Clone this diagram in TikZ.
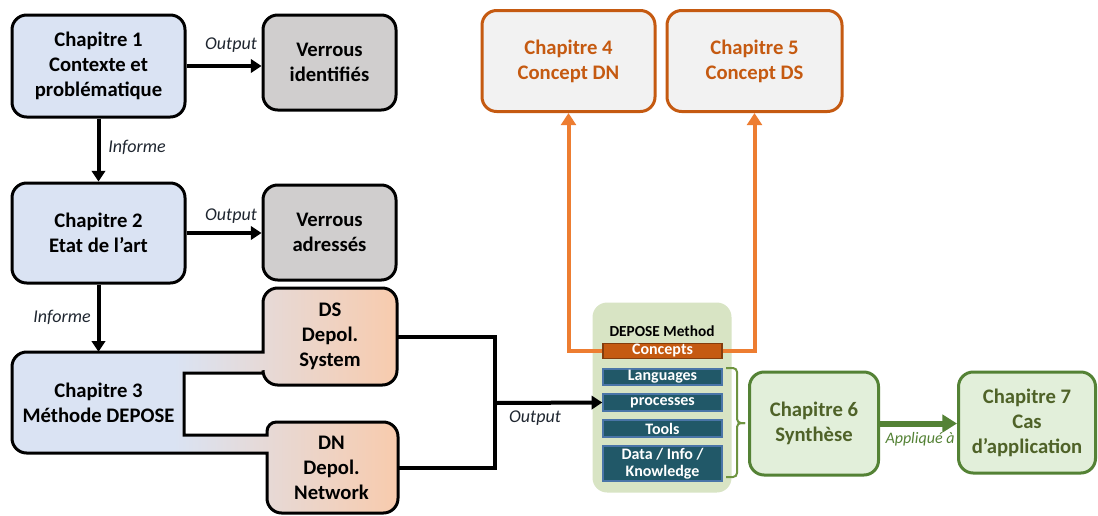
\documentclass[tikz,border=0pt]{standalone}
\usepackage{fontspec}
\setmainfont{Carlito}
\usetikzlibrary{arrows.meta}
\definecolor{chapblue}{HTML}{DAE3F3}
\definecolor{lockgrey}{HTML}{D0CECE}
\definecolor{dspeach}{HTML}{F8CBAD}
\definecolor{orline}{HTML}{ED7D31}
\definecolor{ordark}{HTML}{C55A11}
\definecolor{orfill}{HTML}{F2F2F2}
\definecolor{panelgreen}{HTML}{D8E4C4}
\definecolor{barfill}{HTML}{215868}
\definecolor{barline}{HTML}{4A75A8}
\definecolor{concline}{HTML}{843C0C}
\definecolor{grline}{HTML}{548235}
\definecolor{grfill}{HTML}{E2EFDA}
\definecolor{grtext}{HTML}{4F6228}
\definecolor{lbltext}{HTML}{1F2630}
\definecolor{brack}{HTML}{6E9440}
\pgfdeclarehorizontalshading{chapthree}{100bp}{color(0bp)=(chapblue); color(25bp)=(chapblue); color(46bp)=(chapblue); color(75bp)=(dspeach); color(100bp)=(dspeach)}
\begin{document}
\begin{tikzpicture}[x=0.75pt,y=-0.75pt,
  sz/.style 2 args={minimum width=#1*0.75pt, minimum height=#2*0.75pt},
  box/.style={draw, line width=2.25pt, rounded corners=11pt, align=center, inner sep=0pt, font=\bfseries\fontsize{15.5}{18.75}\selectfont},
  chapb/.style={box, fill=chapblue},
  lockb/.style={box, fill=lockgrey},
  orb/.style={box, draw=ordark, fill=orfill, text=ordark},
  grb/.style={box, draw=grline, fill=grfill, text=grtext},
  txt/.style={align=center, inner sep=0pt, font=\bfseries\fontsize{15.5}{18.75}\selectfont},
  lbl/.style={inner sep=0pt, font=\itshape\fontsize{13.5}{16}\selectfont, text=lbltext},
  barbox/.style={draw=barline, line width=1.1pt, fill=barfill, text=white, inner sep=0pt, align=center, font=\bfseries\fontsize{12}{13.5}\selectfont, minimum width=119*0.75pt},
  blk/.style={line width=3pt, -{Triangle[length=8pt,width=10pt]}},
  orarrow/.style={draw=orline, line width=3pt, -{Triangle[length=9pt,width=11pt]}},
  grarrow/.style={draw=grline, line width=4.5pt, -{Triangle[length=11pt,width=13pt]}}
]
\useasboundingbox (0,0) rectangle (1098,515);
\fill[white] (0,0) rectangle (1098,515);

% left column
\node[chapb, sz={173}{102}] (ch1) at (98.5,66) {Chapitre 1\\Contexte et\\problématique};
\node[lockb, sz={133}{95}] (v1) at (329.5,62.5) {Verrous\\identifiés};
\node[chapb, sz={173}{100}] (ch2) at (98.5,233) {Chapitre 2\\Etat de l’art};
\node[lockb, sz={133}{95}] (v2) at (329.5,232.5) {Verrous\\adressés};

% chapter 3 composite shape
\shadedraw[shading=chapthree, line width=2.25pt, rounded corners=11pt]
  (12,400) -- (12,352)
  [sharp corners] -- (263,352)
  [rounded corners=11pt] -- (263,288) -- (397,288) -- (397,385) -- (263,385)
  [sharp corners] -- (263,373) -- (184,373) -- (184,435) -- (267,435)
  [rounded corners=7pt] -- (267,422)
  [rounded corners=11pt] -- (398,422) -- (398,513) -- (267,513)
  [sharp corners] -- (267,453)
  [rounded corners=11pt] -- (12,453) -- cycle;
\node[txt, sz={173}{101}] (ch3) at (98.5,402.5) {Chapitre 3\\Méthode DEPOSE};
\node[txt, sz={134}{97}] (ds) at (330,336.5) {DS\\Depol.\\System};
\node[txt, sz={131}{91}] (dn) at (331.5,467.5) {DN\\Depol.\\Network};

% arrows left column
\draw[blk] (ch1.east) -- (v1.west |- ch1.east);
\node[lbl] (o1) at (231,45) {Output};
\draw[blk] (ch1.south) -- (ch2.north);
\node[lbl] (i1) at (137,147) {Informe};
\draw[blk] (ch2.east) -- (v2.west |- ch2.east);
\node[lbl] (o2) at (231,216) {Output};
\draw[blk] (ch2.south) -- (ch3.north);
\node[lbl] (i2) at (62,317) {Informe};

% DEPOSE panel
\node[fill=panelgreen, rounded corners=11pt, sz={139}{190}] (dep) at (662,397.5) {};
\node[inner sep=0pt, font=\bfseries\fontsize{11.5}{13}\selectfont] (deptitle) at (662,331) {DEPOSE Method};
\node[barbox, fill=ordark, draw=concline, minimum height=15*0.75pt] (conc) at (662.5,351) {Concepts};
\node[barbox, minimum height=16*0.75pt] (lang) at (662.5,377) {Languages};
\node[barbox, minimum height=17*0.75pt] (proc) at (662.5,402.5) {processes};
\node[barbox, minimum height=17*0.75pt] (tools) at (662.5,428.5) {Tools};
\node[barbox, minimum height=35*0.75pt] (data) at (662.5,463.5) {Data / Info /\\[-1pt]Knowledge};

% outputs from DS / DN
\coordinate (J) at (495,403);
\draw[line width=3pt] (ds.east) -| (J) |- (dn.east);
\draw[blk] (J) -- (proc.west);
\node[lbl] (o3) at (535,418) {Output};

% chapters 4 and 5
\node[orb, sz={173}{101}] (ch4) at (568.5,61) {Chapitre 4\\Concept DN};
\node[orb, sz={175}{101}] (ch5) at (754.5,61) {Chapitre 5\\Concept DS};
\draw[orarrow] (conc.west) -| (ch4.south);
\draw[orarrow] (conc.east) -| (ch5.south);

% bracket
\draw[brack, line width=1.5pt, rounded corners=3pt] (726,368) -- (737,368) -- (737,423) -- (745,423);
\draw[brack, line width=1.5pt, rounded corners=3pt] (745,423) -- (737,423) -- (737,477) -- (726,477);

% chapters 6 and 7
\node[grb, sz={129}{103}] (ch6) at (814,423.5) {Chapitre 6\\Synthèse};
\node[grb, sz={137}{101}] (ch7) at (1027,422.5) {Chapitre 7\\Cas\\d’application};
\draw[grarrow] (ch6.east) -- (ch7.west |- ch6.east);
\node[lbl, text=grline, font=\itshape\fontsize{12}{14}\selectfont] (ap) at (920,439) {Appliqué à};
\end{tikzpicture}
\end{document}
